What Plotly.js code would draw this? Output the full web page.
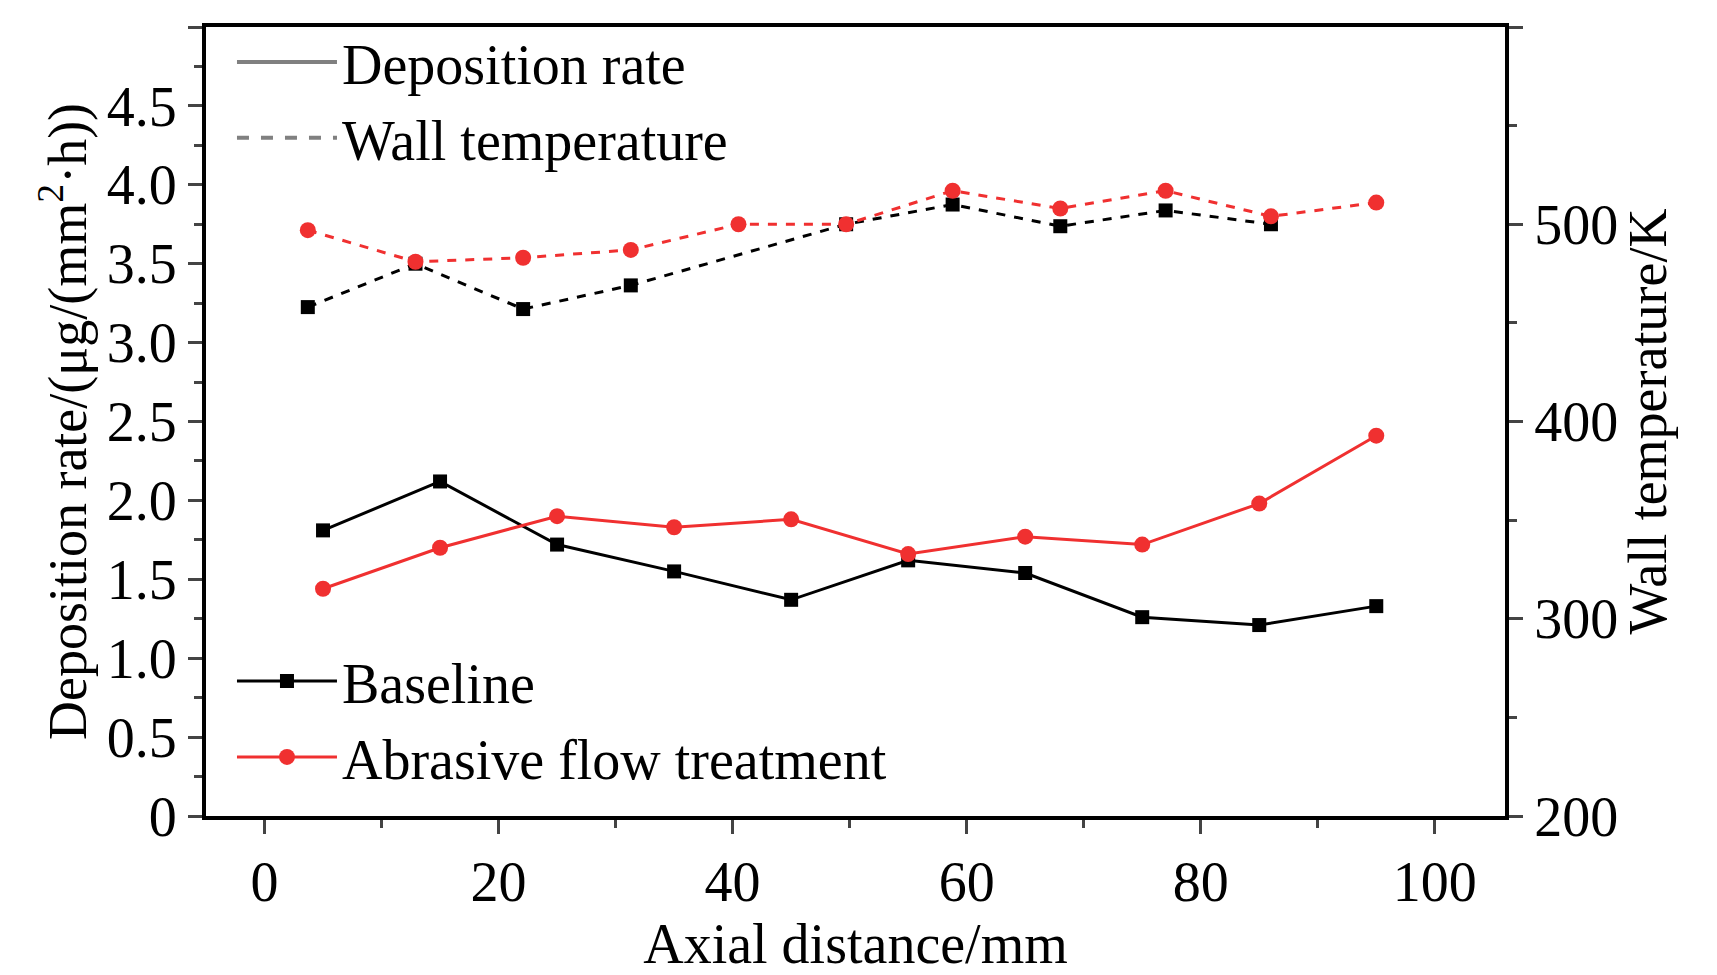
<!DOCTYPE html>
<html><head><meta charset="utf-8">
<script src="https://cdn.plot.ly/plotly-3.0.1.min.js"></script>
<style>body{margin:0}#g{width:1717px;height:975px}</style>
</head><body><div id="g"></div>
<script>
// deposition rate
var depX = [5, 15, 25, 35, 45, 55, 65, 75, 85, 95];
var baseRate = [1.81, 2.12, 1.72, 1.55, 1.37, 1.62, 1.54, 1.26, 1.21, 1.33];
var afmRate = [1.44, 1.70, 1.90, 1.83, 1.88, 1.66, 1.77, 1.72, 1.98, 2.41];
// wall temperature
var baseTX = [3.7, 12.9, 22.1, 31.3, 49.7, 58.8, 68, 77, 86];
var baseT = [458, 480, 457, 469, 500, 510, 499, 507, 500];
var afmTX = [3.7, 12.9, 22.1, 31.3, 40.5, 49.7, 58.8, 68, 77, 86, 95];
var afmT = [497, 481, 483, 487, 500, 500, 517, 508, 517, 504, 511];
// tick labels
var leftTicks = [0, 0.5, 1, 1.5, 2, 2.5, 3, 3.5, 4, 4.5, 5];
var leftText = ['0', '0.5', '1.0', '1.5', '2.0', '2.5', '3.0', '3.5', '4.0', '4.5', '5.0'];
var rightTicks = [200, 300, 400, 500, 600];

var BLK = '#000000', RED = '#f03030';
var FONT = 'Liberation Serif, Times New Roman, serif';

var data = [
  {x: [null], y: [null], mode: 'lines', line: {color: '#808080', width: 4}, name: 'Deposition rate', legend: 'legend'},
  {x: [null], y: [null], mode: 'lines', line: {color: '#808080', width: 4, dash: 'dash'}, name: 'Wall temperature', legend: 'legend'},
  {x: depX, y: baseRate, mode: 'lines+markers', line: {color: BLK, width: 3}, marker: {symbol: 'square', size: 14, color: BLK}, name: 'Baseline', legend: 'legend2'},
  {x: depX, y: afmRate, mode: 'lines+markers', line: {color: RED, width: 3}, marker: {symbol: 'circle', size: 16, color: RED}, name: 'Abrasive flow treatment', legend: 'legend2'},
  {x: baseTX, y: baseT, yaxis: 'y2', mode: 'lines+markers', line: {color: BLK, width: 3, dash: 'dash'}, marker: {symbol: 'square', size: 14, color: BLK}, showlegend: false},
  {x: afmTX, y: afmT, yaxis: 'y2', mode: 'lines+markers', line: {color: RED, width: 3, dash: 'dash'}, marker: {symbol: 'circle', size: 16, color: RED}, showlegend: false}
];

var axisCommon = {showline: true, linewidth: 4, linecolor: BLK, ticks: 'outside', ticklen: 14, tickwidth: 3,
  showgrid: false, zeroline: false, tickfont: {family: FONT, size: 56, color: BLK}};

var layout = {
  width: 1717, height: 975,
  margin: {l: 206, r: 212, t: 27, b: 159},
  paper_bgcolor: '#fff', plot_bgcolor: '#fff',
  font: {family: FONT, color: BLK},
  xaxis: Object.assign({}, axisCommon, {range: [-5, 106], dtick: 20, tick0: 0, mirror: true,
    minor: {dtick: 10, ticks: 'outside', ticklen: 8, tickwidth: 3},
    title: {text: 'Axial distance/mm', font: {family: FONT, size: 56}, standoff: 4}}),
  yaxis: Object.assign({}, axisCommon, {range: [0, 5], tickmode: 'array', tickvals: leftTicks, ticktext: leftText,
    minor: {dtick: 0.25, ticks: 'outside', ticklen: 8, tickwidth: 3},
    title: {text: 'Deposition rate/(μg/(mm<sup>2</sup>·h))', font: {family: FONT, size: 54}, standoff: 4}}),
  yaxis2: Object.assign({}, axisCommon, {overlaying: 'y', side: 'right', range: [200, 600],
    tickmode: 'array', tickvals: rightTicks,
    minor: {dtick: 50, ticks: 'outside', ticklen: 8, tickwidth: 3},
    title: {text: 'Wall temperature/K', font: {family: FONT, size: 54}, standoff: 4}}),
  legend: {x: 0.02, y: 1.01, xanchor: 'left', yanchor: 'top', bgcolor: 'rgba(0,0,0,0)',
    font: {family: FONT, size: 56, color: BLK}, itemwidth: 100, tracegroupgap: 0},
  legend2: {x: 0.02, y: 0.02, xanchor: 'left', yanchor: 'bottom', bgcolor: 'rgba(0,0,0,0)',
    font: {family: FONT, size: 56, color: BLK}, itemwidth: 100, tracegroupgap: 0},
  showlegend: true
};

Plotly.newPlot('g', data, layout, {displayModeBar: false});
</script>
</body></html>
